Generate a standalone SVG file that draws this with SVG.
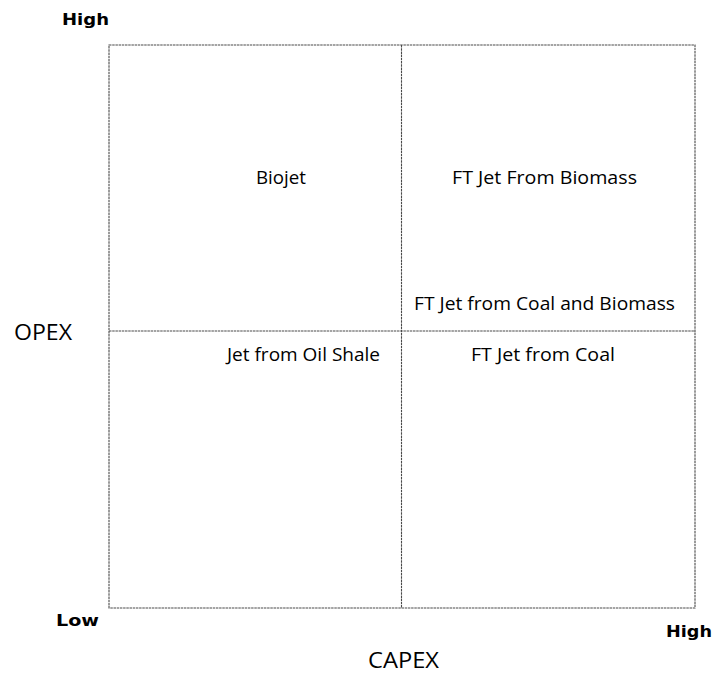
<svg xmlns="http://www.w3.org/2000/svg" width="719" height="677" viewBox="0 0 719 677">
<style>
.ln{stroke:#4a4a4a;stroke-width:1.1;fill:none;stroke-dasharray:2.5 0.7}
.q{font-family:"Open Sans","Liberation Sans",sans-serif;font-size:18px;fill:#000}
.ax{font-family:"Open Sans","Liberation Sans",sans-serif;font-size:21px;fill:#000}
.b{font-family:"DejaVu Sans",Verdana,sans-serif;font-weight:bold;font-size:16px;fill:#000}
</style>
<rect width="719" height="677" fill="#fff"/>
<g id="connectors">
<rect class="ln" x="109" y="45" width="586" height="563"/>
<line class="ln" x1="401.5" y1="45" x2="401.5" y2="608"/>
<line class="ln" x1="109" y1="331" x2="695" y2="331"/>
</g>
<g id="axes">
<text class="b" x="62" y="25" textLength="47" lengthAdjust="spacingAndGlyphs">High</text>
<text class="b" x="56" y="626" textLength="43" lengthAdjust="spacingAndGlyphs">Low</text>
<text class="b" x="666" y="637" textLength="46" lengthAdjust="spacingAndGlyphs">High</text>
<text class="ax" x="14" y="340" textLength="58" lengthAdjust="spacingAndGlyphs">OPEX</text>
<text class="ax" x="368" y="668" textLength="71" lengthAdjust="spacingAndGlyphs">CAPEX</text>
</g>
<g id="biojet"><text class="q" x="256" y="184" textLength="50" lengthAdjust="spacingAndGlyphs">Biojet</text></g>
<g id="ft-biomass"><text class="q" x="452" y="184" textLength="185" lengthAdjust="spacingAndGlyphs">FT Jet From Biomass</text></g>
<g id="ft-coal-biomass"><text class="q" x="414" y="310" textLength="261" lengthAdjust="spacingAndGlyphs">FT Jet from Coal and Biomass</text></g>
<g id="oil-shale"><text class="q" x="227" y="361" textLength="153" lengthAdjust="spacingAndGlyphs">Jet from Oil Shale</text></g>
<g id="ft-coal"><text class="q" x="471" y="361" textLength="144" lengthAdjust="spacingAndGlyphs">FT Jet from Coal</text></g>
</svg>
